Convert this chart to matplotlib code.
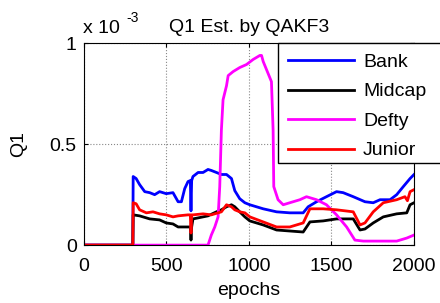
import matplotlib
matplotlib.use("Agg")
import matplotlib.pyplot as plt
from matplotlib.patches import Rectangle

plt.rcParams['font.family'] = ['Liberation Sans', 'DejaVu Sans']

# values in units of 1e-3
bank_ep = [0, 298, 300, 318, 339, 370, 400, 430, 460, 500, 541, 572, 592, 612, 632, 646, 650, 654,
           662, 693, 723, 753, 773, 804, 834, 865, 895, 915, 945, 976, 1006, 1087, 1168, 1248,
           1329, 1359, 1410, 1470, 1531, 1571, 1632, 1703, 1753, 1794, 1855, 1895, 1935, 1976, 2000]
bank_q1 = [0, 0, 0.34, 0.33, 0.30, 0.265, 0.26, 0.25, 0.265, 0.255, 0.26, 0.215, 0.215, 0.28, 0.315,
           0.32, 0.17, 0.32, 0.34, 0.36, 0.36, 0.375, 0.37, 0.36, 0.35, 0.35, 0.33, 0.27, 0.23, 0.21,
           0.20, 0.18, 0.165, 0.16, 0.16, 0.19, 0.215, 0.24, 0.265, 0.26, 0.24, 0.215, 0.21, 0.225,
           0.225, 0.25, 0.29, 0.33, 0.35]

midcap_ep = [0, 298, 300, 339, 400, 460, 500, 541, 572, 632, 646, 650, 654, 662, 693, 753, 804, 834,
             865, 895, 915, 945, 976, 1006, 1087, 1168, 1248, 1329, 1370, 1450, 1531, 1632, 1673,
             1703, 1753, 1814, 1895, 1956, 1976, 2000]
midcap_q1 = [0, 0, 0.15, 0.145, 0.13, 0.125, 0.11, 0.105, 0.09, 0.09, 0.09, 0.025, 0.09, 0.13, 0.135,
             0.145, 0.165, 0.175, 0.19, 0.20, 0.19, 0.165, 0.14, 0.12, 0.10, 0.075, 0.07, 0.065,
             0.115, 0.12, 0.13, 0.13, 0.075, 0.08, 0.11, 0.14, 0.155, 0.16, 0.20, 0.21]

defty_ep = [0, 753, 773, 794, 814, 824, 834, 844, 865, 875, 905, 945, 986, 1026, 1067, 1077, 1087,
            1117, 1137, 1147, 1151, 1177, 1208, 1248, 1309, 1349, 1410, 1470, 1531, 1592, 1642,
            1693, 1800, 1895, 1956, 2000]
defty_q1 = [0, 0, 0.05, 0.09, 0.14, 0.29, 0.57, 0.72, 0.79, 0.84, 0.86, 0.88, 0.895, 0.92, 0.94,
            0.94, 0.91, 0.85, 0.81, 0.57, 0.29, 0.225, 0.20, 0.21, 0.225, 0.24, 0.225, 0.20, 0.15,
            0.09, 0.025, 0.02, 0.02, 0.02, 0.035, 0.05]

junior_ep = [0, 298, 300, 318, 339, 380, 420, 460, 500, 541, 572, 632, 646, 650, 654, 662, 723, 773,
             834, 865, 895, 915, 945, 976, 1006, 1087, 1168, 1248, 1329, 1370, 1450, 1531, 1632,
             1673, 1703, 1753, 1814, 1895, 1945, 1960, 1976, 2000]
junior_q1 = [0, 0, 0.21, 0.205, 0.175, 0.16, 0.165, 0.155, 0.15, 0.14, 0.145, 0.15, 0.15, 0.06,
             0.15, 0.15, 0.155, 0.15, 0.165, 0.20, 0.19, 0.175, 0.165, 0.16, 0.14, 0.115, 0.09,
             0.09, 0.11, 0.18, 0.18, 0.175, 0.165, 0.10, 0.11, 0.165, 0.21, 0.225, 0.24, 0.22,
             0.265, 0.275]

series = [
    ("Bank", bank_ep, bank_q1, "#0000ff"),
    ("Midcap", midcap_ep, midcap_q1, "#000000"),
    ("Defty", defty_ep, defty_q1, "#ff00ff"),
    ("Junior", junior_ep, junior_q1, "#ff0000"),
]

W, H = 440, 303


def main():
    fig = plt.figure(figsize=(4.4, 3.03), dpi=100)
    ax = fig.add_axes([0.19, 0.191, 0.751, 0.666])
    for name, ep, q1, color in series:
        ax.plot(ep, q1, color=color, lw=2, label=name)

    ax.set_xlim(0, 2000)
    ax.set_ylim(0, 1)
    ax.set_xticks([0, 500, 1000, 1500, 2000])
    ax.set_yticks([0, 0.5, 1])
    ax.set_yticklabels(["0", "0.5", "1"])
    ax.tick_params(direction="in", top=True, right=True, labelsize=14, length=3)
    ax.tick_params(axis="x", pad=9)
    ax.tick_params(axis="y", pad=5)
    ax.grid(True, color="#888888", linestyle=":", linewidth=0.8)
    for s in ax.spines.values():
        s.set_linewidth(0.8)

    ax.set_title("Q1 Est. by QAKF3", fontsize=14, pad=8)
    ax.set_xlabel("epochs", fontsize=14, labelpad=5)
    ax.set_ylabel("Q1", fontsize=14, labelpad=16)
    fig.text(83 / W, 1 - 33 / H, "x 10", fontsize=14, ha="left", va="baseline")
    fig.text(126 / W, 1 - 22 / H, "-3", fontsize=10, ha="left", va="baseline")

    # legend box runs past the right edge of the figure, as in the original
    box = Rectangle((277.5 / W, 1 - 162.7 / H), 180 / W, 120 / H, transform=fig.transFigure,
                    facecolor="white", edgecolor="black", linewidth=1.0, clip_on=False, zorder=4)
    ax.add_patch(box)
    leg = ax.legend(loc="upper left", bbox_to_anchor=(277.5 / W, 1 - 42.7 / H),
                    bbox_transform=fig.transFigure, fontsize=14, handlelength=3.4,
                    handletextpad=0.45, labelspacing=0.61, borderpad=0.55,
                    borderaxespad=0, fancybox=False, frameon=False)
    leg.set_zorder(5)

    fig.savefig("out.png", dpi=100)


if __name__ == "__main__":
    main()
